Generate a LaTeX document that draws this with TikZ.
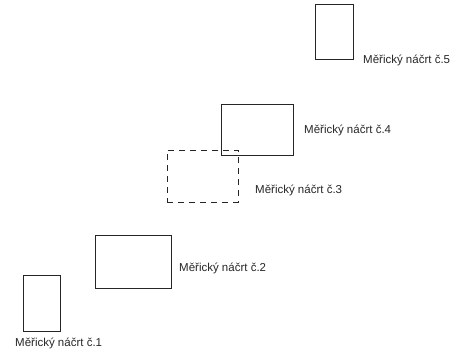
\documentclass[tikz,border=0pt]{standalone}
\usepackage{fontspec}
\setmainfont{Liberation Sans}
\begin{document}
\begin{tikzpicture}[x=1pt,y=-1pt,
  sketch/.style={draw=black!85, line width=0.9pt, inner sep=0pt, outer sep=0pt, rectangle},
  dashsketch/.style={sketch, dash pattern=on 6pt off 5pt},
  lbl/.style={anchor=west, inner sep=0pt, font=\fontsize{11.5}{13}\selectfont, text=black!85}]
\useasboundingbox (0,0) rectangle (465,359);
% boxes
\node[sketch, minimum width=37pt, minimum height=56pt] (b1) at (41.5,303.5) {};
\node[sketch, minimum width=76pt, minimum height=53pt] (b2) at (133,261.5) {};
\node[dashsketch, minimum width=71pt, minimum height=52pt] (b3) at (202.5,176) {};
\node[sketch, minimum width=72pt, minimum height=51pt] (b4) at (257,129.5) {};
\node[sketch, minimum width=38pt, minimum height=55pt] (b5) at (334,31.5) {};
% labels
\node[lbl] (l1) at (15,343) {Měřický náčrt č.1};
\node[lbl] (l2) at (179,268) {Měřický náčrt č.2};
\node[lbl] (l3) at (255,190) {Měřický náčrt č.3};
\node[lbl] (l4) at (304,130) {Měřický náčrt č.4};
\node[lbl] (l5) at (363,60) {Měřický náčrt č.5};
\end{tikzpicture}
\end{document}
